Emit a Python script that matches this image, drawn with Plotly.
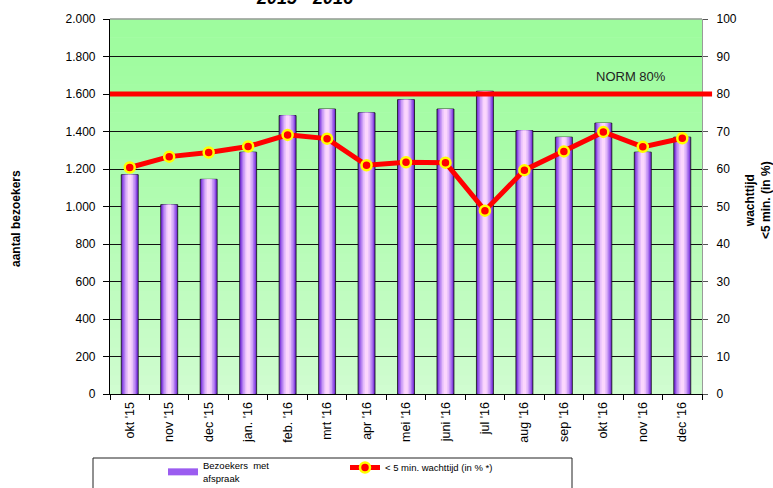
import plotly.graph_objects as go

months = ["okt '15", "nov '15", "dec '15", "jan. '16", "feb. '16", "mrt '16", "apr '16",
          "mei '16", "juni '16", "jul '16", "aug '16", "sep '16", "okt '16", "nov '16", "dec '16"]
visitors = [1170, 1010, 1145, 1290, 1485, 1520, 1500, 1570, 1520, 1615, 1405, 1370, 1445, 1290, 1370]
pct_within5 = [60.4, 63.3, 64.4, 66.0, 69.1, 68.1, 61.0, 61.8, 61.7, 48.9, 59.7, 64.7, 69.9, 65.9, 68.2]
norm = 80

FONT = "Arial, Liberation Sans, sans-serif"
bar_name = "Bezoekers\u00a0\u00a0met<br>afspraak"

fig = go.Figure()

# bars with a horizontal purple gradient imitation (overlay of narrower lighter bars)
bar_layers = [(0.43, "#6a26cc", True), (0.38, "#8a48e2", False), (0.32, "#ab74ee", False),
              (0.25, "#cc9ef6", False), (0.17, "#e8c0fb", False), (0.09, "#fbd6fd", False)]
for w, c, first in bar_layers:
    fig.add_trace(go.Bar(
        x=months, y=visitors, width=w, name=bar_name,
        marker=dict(color=c, line=dict(color="#111111", width=0.8 if first else 0)),
        showlegend=False, yaxis="y", hoverinfo="skip" if not first else None))

# legend swatch for the bars (wide purple bar symbol like the original)
fig.add_trace(go.Scatter(x=[None], y=[None], mode="lines", name=bar_name,
                         line=dict(color="#9b5cf0", width=7), showlegend=True))

fig.add_trace(go.Scatter(
    x=months, y=pct_within5, yaxis="y2", mode="lines+markers",
    name="< 5 min. wachttijd (in % *)",
    line=dict(color="#ff0000", width=5),
    marker=dict(color="#ff0000", size=10, line=dict(color="#ffff00", width=2.5))))

shapes = []
# green vertical gradient background
top = (158, 252, 158)
bot = (208, 253, 208)
n = 40
for i in range(n):
    t = i / (n - 1)
    tt = (1 - t) ** 1.3
    r = int(top[0] + (bot[0] - top[0]) * tt)
    g = int(top[1] + (bot[1] - top[1]) * tt)
    b = int(top[2] + (bot[2] - top[2]) * tt)
    shapes.append(dict(type="rect", xref="paper", yref="paper", x0=0, x1=1,
                       y0=i / n, y1=(i + 1) / n + 0.001, line=dict(width=0),
                       fillcolor=f"rgb({r},{g},{b})", layer="below"))
# top border
shapes.append(dict(type="line", xref="paper", yref="paper", x0=0, x1=1, y0=1, y1=1,
                   line=dict(color="#9a9a9a", width=1.5), layer="above"))
# norm line
shapes.append(dict(type="line", xref="paper", yref="y2", x0=0, x1=1.017, y0=norm, y1=norm,
                   line=dict(color="#ff0000", width=5), layer="above"))
# legend box
shapes.append(dict(type="rect", xref="paper", yref="paper",
                   x0=(93 - 110) / 592, x1=(572 - 110) / 592,
                   y0=(394 - 500) / 375, y1=(394 - 458) / 375,
                   line=dict(color="#222222", width=1), fillcolor="rgba(0,0,0,0)"))

annotations = [
    dict(text="<b><i>2015 - 2016</i></b>", xref="paper", yref="paper",
         x=(305 - 110) / 592, y=1.024, xanchor="center", yanchor="bottom",
         showarrow=False, font=dict(family=FONT, size=18, color="#000")),
    dict(text="NORM 80%", xref="paper", yref="y2", x=(631 - 110) / 592, y=84.6,
         xanchor="center", yanchor="middle",
         showarrow=False, font=dict(family=FONT, size=13, color="#222")),
    dict(text="<b>aantal bezoekers</b>", xref="paper", yref="paper",
         x=(16 - 110) / 592, y=(394 - 219) / 375, textangle=-90,
         xanchor="center", yanchor="middle",
         showarrow=False, font=dict(family=FONT, size=12, color="#000")),
    dict(text="<b>wachttijd<br><5 min. (in %)</b>", xref="paper", yref="paper",
         x=(758 - 110) / 592, y=(394 - 200) / 375, textangle=-90,
         xanchor="center", yanchor="middle",
         showarrow=False, font=dict(family=FONT, size=12, color="#000")),
]

fig.update_layout(
    width=773, height=488,
    margin=dict(l=110, r=71, t=19, b=94, autoexpand=False),
    paper_bgcolor="white", plot_bgcolor="#c8fcc8",
    barmode="overlay",
    separators=",.",
    font=dict(family=FONT, size=10, color="#000"),
    shapes=shapes, annotations=annotations,
    showlegend=True,
    legend=dict(orientation="h", x=(163 - 110) / 592, xanchor="left",
                y=(394 - 453) / 375, yanchor="top", font=dict(size=9.5, family=FONT),
                bgcolor="rgba(0,0,0,0)", entrywidth=137, traceorder="normal"),
    xaxis=dict(tickangle=-90, showgrid=False, showline=True, linecolor="#000", linewidth=1,
               ticks="outside", tickson="boundaries", ticklen=5, tickcolor="#000",
               tickfont=dict(size=12.5), range=[-0.5, 14.5], automargin=False,
               ticklabelstandoff=2),
    yaxis=dict(range=[0, 2000], dtick=200, tickformat=",d", showgrid=True,
               gridcolor="#111", gridwidth=1, showline=True, linecolor="#000", linewidth=1.2,
               ticks="outside", ticklen=6, tickcolor="#000", tickfont=dict(size=12),
               zeroline=False, automargin=False, ticklabelstandoff=5),
    yaxis2=dict(range=[0, 100], dtick=10, overlaying="y", side="right", showgrid=False,
                showline=True, linecolor="#9a9a9a", linewidth=1.2, ticks="outside",
                ticklen=5, tickcolor="#555", tickfont=dict(size=12), zeroline=False,
                automargin=False, ticklabelstandoff=6),
)

fig.write_html("out.html", config={"displayModeBar": False},
               post_script="document.body.style.margin='0px';")
